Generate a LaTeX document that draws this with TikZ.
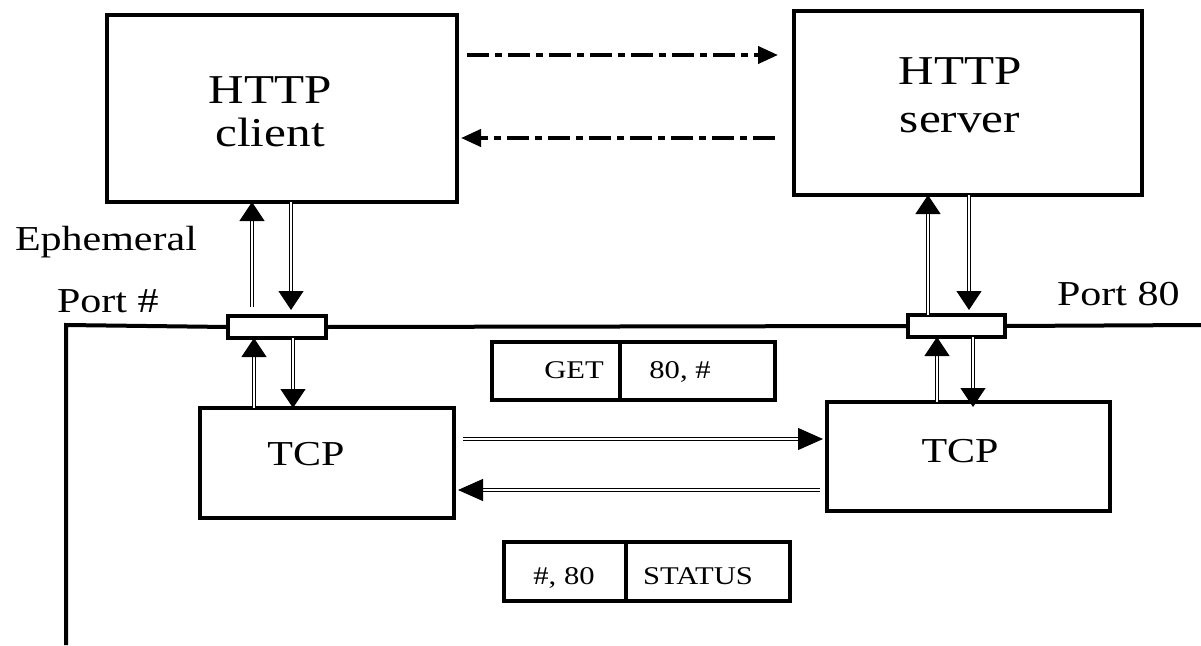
\documentclass[tikz,border=0pt]{standalone}
\usepackage{fontspec}
\setmainfont{Liberation Serif}[FakeStretch=1.2]
\usetikzlibrary{arrows.meta,calc}
\begin{document}
\begin{tikzpicture}[x=1pt,y=-1pt,
  bigbox/.style={draw,line width=4.2pt,inner sep=0pt,outer sep=0pt},
  midbox/.style={draw,line width=3.5pt,inner sep=0pt,outer sep=0pt},
  portbox/.style={draw,fill=white,line width=3.5pt,inner sep=0pt,outer sep=0pt,minimum height=22pt},
  txt/.style={inner sep=0pt,outer sep=0pt},
  dbl/.style={double,double distance=2.4pt,line width=1pt,-{Triangle[length=19pt,width=25pt]}},
  hdbl/.style={double,double distance=2.4pt,line width=1pt,-{Triangle[length=25pt,width=22pt]}},
  dashdot/.style={line width=4pt,dash pattern=on 22pt off 6pt on 7pt off 6pt,-{Triangle[length=20pt,width=17pt]}},
  portline/.style={line width=4pt}]
\useasboundingbox (0,0) rectangle (1201,645);
% boxes
\node[bigbox,minimum width=350pt,minimum height=187pt] (cl) at (282,108.5) {};
\node[bigbox,minimum width=348pt,minimum height=184pt] (sv) at (968,103) {};
\node[midbox,minimum width=254pt,minimum height=110pt] (tl) at (327,463) {};
\node[midbox,minimum width=283pt,minimum height=109pt] (tr) at (968.5,456.5) {};
\node[midbox,minimum width=128pt,minimum height=58pt] (g1) at (556,371) {};
\node[midbox,minimum width=155pt,minimum height=58pt] (g2) at (697.5,371) {};
\node[midbox,minimum width=122pt,minimum height=59pt] (s1) at (565,571.5) {};
\node[midbox,minimum width=164pt,minimum height=59pt] (s2) at (708,571.5) {};
% port line
\coordinate (lb) at (66,645);
\coordinate (lt) at (66,325);
\coordinate (re) at (1201,325);
\node[portbox,minimum width=98pt] (pl) at (277,327) {};
\node[portbox,minimum width=97pt] (pr) at (956.5,326) {};
\draw[portline] (lb) -- (lt) -- (pl.west);
\draw[portline] (pl.east) -- (pr.west);
\draw[portline] (pr.east) -- (re);
% texts
\node[txt,align=center,font=\fontsize{41}{43}\selectfont] (clt) at (270,112) {HTTP\\client};
\node[txt,align=center,font=\fontsize{41}{48}\selectfont] (svt) at (960,95) {HTTP\\server};
\node[txt,font=\fontsize{35}{40}\selectfont] (tlt) at (306,454.5) {TCP};
\node[txt,font=\fontsize{35}{40}\selectfont] (trt) at (960,451) {TCP};
\node[txt,anchor=base west,font=\fontsize{35}{40}\selectfont] (eph) at (15,250) {Ephemeral};
\node[txt,anchor=base west,font=\fontsize{35}{40}\selectfont] (ph) at (57,312) {Port \#};
\node[txt,anchor=base west,font=\fontsize{35}{40}\selectfont] (p80) at (1057,305) {Port 80};
\node[txt,anchor=base,font=\fontsize{25.5}{30}\selectfont] (get) at (574,378) {GET};
\node[txt,anchor=base,font=\fontsize{25.5}{30}\selectfont] (g80) at (680,378) {80, \#};
\node[txt,anchor=base,font=\fontsize{25.5}{30}\selectfont] (s80) at (564,584) {\#, 80};
\node[txt,anchor=base,font=\fontsize{25.5}{30}\selectfont] (sst) at (698,584) {STATUS};
% vertical arrow x positions
\coordinate (a1) at (252,307);
\coordinate (a2) at (291,310);
\coordinate (a3) at (254,0);
\coordinate (a4) at (293,0);
\coordinate (b1) at (928,0);
\coordinate (b2) at (969,310);
\coordinate (b3) at (937,0);
\coordinate (b4) at (973,407);
\draw[dbl] (a1) -- (a1 |- cl.south);
\draw[dbl] (a2 |- cl.south) -- (a2);
\draw[dbl] (a3 |- tl.north) -- (a3 |- pl.south);
\draw[dbl] (a4 |- pl.south) -- (a4 |- tl.north);
\draw[dbl] (b1 |- pr.north) -- (b1 |- sv.south);
\draw[dbl] (b2 |- sv.south) -- (b2);
\draw[dbl] (b3 |- tr.north) -- (b3 |- pr.south);
\draw[dbl] (b4 |- pr.south) -- (b4);
% horizontal TCP arrows
\coordinate (h1) at (463,439);
\coordinate (h2) at (823,439);
\coordinate (h3) at (820,490);
\coordinate (h4) at (458,490);
\draw[hdbl] (h1) -- (h2);
\draw[hdbl] (h3) -- (h4);
% dash-dot arrows
\coordinate (d1) at (467,55);
\coordinate (d2) at (778,55);
\coordinate (d3) at (775,138);
\coordinate (d4) at (461,138);
\draw[dashdot] (d1) -- (d2);
\draw[dashdot] (d3) -- (d4);
\end{tikzpicture}
\end{document}
